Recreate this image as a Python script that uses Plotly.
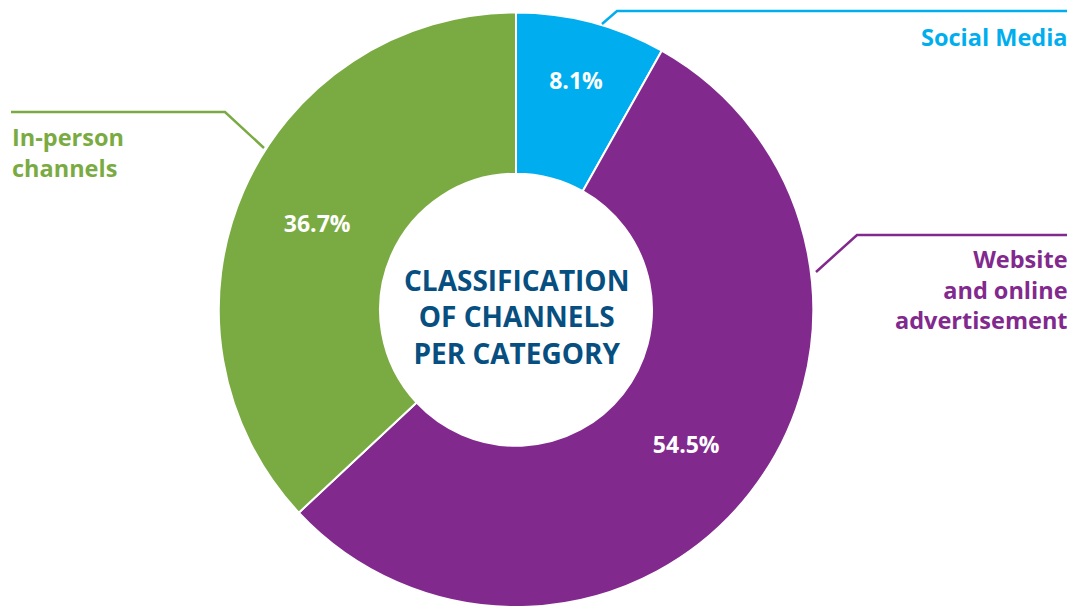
import plotly.graph_objects as go

# page has an 8px body margin; figure coordinates are page coordinates minus OFF
OFF = 8
W, H = 1076 - OFF, 615 - 2 * OFF

categories = ["Social Media", "Website and online advertisement", "In-person channels"]
values = [8.1, 54.5, 36.7]
colors = ["#00AEEF", "#82298E", "#7AAB42"]
label_texts = ["Social Media", "Website<br>and online<br>advertisement", "In-person<br>channels"]
center_title = "CLASSIFICATION<br>OF CHANNELS<br>PER CATEGORY"

FONT = "Open Sans"

def px(x, y):
    """page pixel -> paper coords"""
    return (x - OFF) / W, 1 - (y - OFF) / H

# donut geometry (page pixels)
top, bottom = 12.5, OFF + H
r = (bottom - top) / 2
cx, cy = 516, (top + bottom) / 2
x0, _ = px(cx - r, 0)
x1, _ = px(cx + r, 0)

fig = go.Figure(go.Pie(
    labels=categories,
    values=values,
    sort=False,
    direction="clockwise",
    rotation=0,
    hole=136 / r,
    marker=dict(colors=colors, line=dict(color="white", width=2)),
    texttemplate="%{value}%",
    textposition="inside",
    insidetextorientation="horizontal",
    textfont=dict(family=FONT, size=23, color="white", weight="bold"),
    domain=dict(x=[x0, x1], y=[0, px(0, top)[1]]),
    showlegend=False,
    hoverinfo="label+value",
))

RIGHT = 1070

def path(points):
    pts = [px(x, y) for x, y in points]
    return "M " + " L ".join(f"{a},{b}" for a, b in pts)

shapes = [
    dict(type="path", xref="paper", yref="paper",
         path=path([(602, 24), (617, 11), (1067, 11)]),
         line=dict(color=colors[0], width=2.5)),
    dict(type="path", xref="paper", yref="paper",
         path=path([(816, 272), (857, 235), (1067, 235)]),
         line=dict(color=colors[1], width=2.5)),
    dict(type="path", xref="paper", yref="paper",
         path=path([(11, 112), (225, 112), (264, 148)]),
         line=dict(color=colors[2], width=2.5)),
]

annotations = []
ax, ay = px(RIGHT, 37)
annotations.append(dict(x=ax, y=ay, xref="paper", yref="paper", text=label_texts[0],
                        xanchor="right", yanchor="middle", align="right", showarrow=False,
                        font=dict(family=FONT, size=23.5, color=colors[0], weight="bold")))
ax, ay = px(RIGHT, 289)
annotations.append(dict(x=ax, y=ay, xref="paper", yref="paper", text=label_texts[1],
                        xanchor="right", yanchor="middle", align="right", showarrow=False,
                        font=dict(family=FONT, size=23.5, color=colors[1], weight="bold")))
ax, ay = px(10, 152)
annotations.append(dict(x=ax, y=ay, xref="paper", yref="paper", text=label_texts[2],
                        xanchor="left", yanchor="middle", align="left", showarrow=False,
                        font=dict(family=FONT, size=23.5, color=colors[2], weight="bold")))
ax, ay = px(cx, 316)
annotations.append(dict(x=ax, y=ay, xref="paper", yref="paper", text=center_title,
                        xanchor="center", yanchor="middle", align="center", showarrow=False,
                        font=dict(family=FONT, size=28, color="#064F80", weight="bold")))

fig.update_layout(
    width=W, height=H,
    margin=dict(l=0, r=0, t=0, b=0),
    paper_bgcolor="white",
    plot_bgcolor="white",
    shapes=shapes,
    annotations=annotations,
)

fig.write_html("out.html")
